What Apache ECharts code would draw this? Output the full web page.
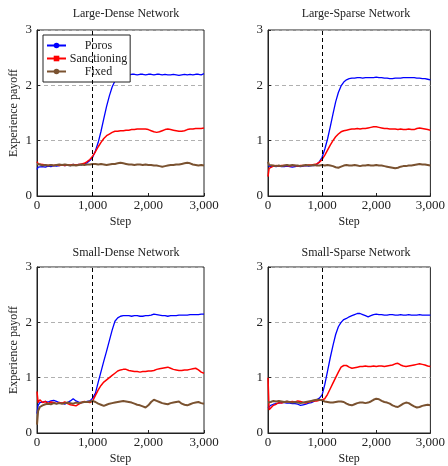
<!DOCTYPE html>
<html>
<head>
<meta charset="utf-8">
<script src="https://cdn.jsdelivr.net/npm/echarts@6/dist/echarts.min.js"></script>
<style>
html,body{margin:0;padding:0;background:#fff;}
#c{width:448px;height:466px;}
</style>
</head>
<body>
<div id="c"></div>
<script>
// ---- data ----
const panelTitles = ['Large-Dense Network', 'Large-Sparse Network', 'Small-Dense Network', 'Small-Sparse Network'];
const seriesNames = ['Poros', 'Sanctioning', 'Fixed'];
const xTicks = [0, 1000, 2000, 3000];
const yTicks = [0, 1, 2, 3];
const switchStep = 1000;
const steps = [0, 20, 50, 100, 150, 200, 250, 300, 350, 400,
  450, 500, 550, 600, 650, 700, 750, 800, 850, 900,
  950, 1000, 1050, 1100, 1150, 1200, 1250, 1300, 1350, 1400,
  1450, 1500, 1550, 1600, 1650, 1700, 1750, 1800, 1850, 1900,
  1950, 2000, 2050, 2100, 2150, 2200, 2250, 2300, 2350, 2400,
  2450, 2500, 2550, 2600, 2650, 2700, 2750, 2800, 2850, 2900,
  2950, 3000];

// Large-Dense
const ldPoros = [0.48, 0.52, 0.50, 0.53, 0.52, 0.54, 0.53, 0.55, 0.54, 0.55,
  0.56, 0.55, 0.56, 0.55, 0.57, 0.56, 0.57, 0.56, 0.58, 0.60,
  0.64, 0.70, 0.82, 0.97, 1.17, 1.40, 1.62, 1.81, 1.97, 2.08,
  2.15, 2.18, 2.19, 2.20, 2.19, 2.20, 2.20, 2.19, 2.20, 2.20,
  2.19, 2.20, 2.20, 2.19, 2.20, 2.20, 2.19, 2.20, 2.19, 2.19,
  2.20, 2.19, 2.18, 2.19, 2.20, 2.19, 2.20, 2.19, 2.20, 2.20,
  2.19, 2.21];
const ldSanction = [0.62, 0.58, 0.60, 0.57, 0.56, 0.55, 0.56, 0.55, 0.56, 0.55,
  0.56, 0.55, 0.56, 0.56, 0.57, 0.56, 0.57, 0.58, 0.59, 0.62,
  0.66, 0.72, 0.80, 0.89, 0.97, 1.04, 1.09, 1.12, 1.15, 1.17,
  1.17, 1.18, 1.18, 1.19, 1.19, 1.20, 1.20, 1.21, 1.21, 1.21,
  1.21, 1.20, 1.18, 1.16, 1.15, 1.16, 1.18, 1.20, 1.21, 1.20,
  1.19, 1.18, 1.17, 1.17, 1.18, 1.20, 1.21, 1.21, 1.22, 1.22,
  1.22, 1.23];
const ldFixed = [0.58, 0.55, 0.57, 0.55, 0.56, 0.55, 0.56, 0.55, 0.56, 0.57,
  0.56, 0.57, 0.56, 0.55, 0.56, 0.55, 0.56, 0.57, 0.56, 0.57,
  0.57, 0.58, 0.58, 0.57, 0.58, 0.57, 0.56, 0.57, 0.58, 0.58,
  0.59, 0.60, 0.59, 0.58, 0.57, 0.57, 0.56, 0.57, 0.57, 0.56,
  0.57, 0.56, 0.56, 0.55, 0.55, 0.54, 0.53, 0.54, 0.55, 0.56,
  0.56, 0.57, 0.57, 0.58, 0.59, 0.60, 0.59, 0.57, 0.56, 0.55,
  0.56, 0.55];

// Large-Sparse
const lsPoros = [0.55, 0.52, 0.53, 0.54, 0.53, 0.54, 0.53, 0.53, 0.54, 0.53,
  0.52, 0.53, 0.54, 0.53, 0.54, 0.55, 0.54, 0.55, 0.55, 0.57,
  0.62, 0.70, 0.85, 1.03, 1.25, 1.48, 1.70, 1.87, 1.99, 2.06,
  2.10, 2.12, 2.13, 2.13, 2.14, 2.14, 2.13, 2.14, 2.14, 2.14,
  2.14, 2.15, 2.14, 2.14, 2.13, 2.13, 2.12, 2.12, 2.13, 2.13,
  2.13, 2.14, 2.14, 2.14, 2.14, 2.14, 2.13, 2.13, 2.12, 2.12,
  2.11, 2.10];
const lsSanction = [0.35, 0.50, 0.53, 0.54, 0.55, 0.54, 0.55, 0.55, 0.55, 0.54,
  0.55, 0.55, 0.54, 0.55, 0.55, 0.55, 0.56, 0.56, 0.57, 0.58,
  0.61, 0.66, 0.74, 0.83, 0.92, 1.00, 1.07, 1.12, 1.16, 1.18,
  1.19, 1.20, 1.21, 1.21, 1.22, 1.21, 1.22, 1.22, 1.23, 1.24,
  1.25, 1.25, 1.24, 1.23, 1.22, 1.22, 1.21, 1.21, 1.21, 1.20,
  1.21, 1.20, 1.20, 1.21, 1.20, 1.20, 1.22, 1.23, 1.22, 1.21,
  1.20, 1.19];
const lsFixed = [0.62, 0.56, 0.54, 0.55, 0.54, 0.55, 0.54, 0.55, 0.56, 0.55,
  0.56, 0.55, 0.55, 0.54, 0.55, 0.56, 0.55, 0.55, 0.56, 0.55,
  0.55, 0.56, 0.55, 0.56, 0.55, 0.54, 0.52, 0.51, 0.53, 0.55,
  0.56, 0.55, 0.55, 0.56, 0.55, 0.54, 0.55, 0.55, 0.56, 0.55,
  0.55, 0.56, 0.55, 0.55, 0.54, 0.53, 0.52, 0.51, 0.50, 0.51,
  0.53, 0.54, 0.54, 0.55, 0.55, 0.56, 0.57, 0.58, 0.57, 0.57,
  0.56, 0.55];

// Small-Dense
const sdPoros = [0.35, 0.50, 0.55, 0.56, 0.57, 0.56, 0.58, 0.59, 0.57, 0.55,
  0.54, 0.52, 0.55, 0.58, 0.62, 0.58, 0.56, 0.55, 0.56, 0.57,
  0.58, 0.63, 0.72, 0.92, 1.11, 1.30, 1.48, 1.67, 1.86, 2.02,
  2.08, 2.11, 2.12, 2.12, 2.12, 2.11, 2.12, 2.12, 2.11, 2.11,
  2.12, 2.12, 2.13, 2.15, 2.14, 2.13, 2.12, 2.12, 2.11, 2.12,
  2.12, 2.12, 2.13, 2.13, 2.13, 2.13, 2.14, 2.14, 2.14, 2.14,
  2.15, 2.15];
const sdSanction = [0.75, 0.55, 0.60, 0.55, 0.57, 0.53, 0.56, 0.55, 0.53, 0.55,
  0.54, 0.56, 0.53, 0.51, 0.50, 0.49, 0.52, 0.55, 0.57, 0.56,
  0.55, 0.58, 0.68, 0.78, 0.86, 0.92, 0.96, 1.00, 1.04, 1.08,
  1.12, 1.14, 1.15, 1.15, 1.13, 1.12, 1.11, 1.11, 1.10, 1.11,
  1.11, 1.12, 1.12, 1.13, 1.15, 1.16, 1.17, 1.18, 1.19, 1.17,
  1.15, 1.14, 1.13, 1.13, 1.14, 1.14, 1.15, 1.16, 1.17, 1.14,
  1.10, 1.08];
const sdFixed = [0.15, 0.40, 0.47, 0.50, 0.52, 0.53, 0.52, 0.54, 0.53, 0.54,
  0.53, 0.54, 0.55, 0.54, 0.53, 0.55, 0.54, 0.55, 0.56, 0.56,
  0.57, 0.58, 0.56, 0.53, 0.51, 0.49, 0.51, 0.53, 0.54, 0.55,
  0.56, 0.57, 0.58, 0.57, 0.56, 0.55, 0.53, 0.51, 0.50, 0.48,
  0.46, 0.50, 0.56, 0.60, 0.58, 0.56, 0.54, 0.53, 0.52, 0.54,
  0.55, 0.56, 0.57, 0.53, 0.51, 0.50, 0.52, 0.54, 0.55, 0.56,
  0.54, 0.53];

// Small-Sparse
const ssPoros = [0.45, 0.48, 0.50, 0.52, 0.53, 0.54, 0.55, 0.55, 0.54, 0.54,
  0.53, 0.53, 0.52, 0.50, 0.51, 0.52, 0.54, 0.55, 0.57, 0.60,
  0.63, 0.69, 0.88, 1.12, 1.36, 1.58, 1.78, 1.92, 2.00, 2.05,
  2.07, 2.10, 2.12, 2.14, 2.16, 2.16, 2.14, 2.12, 2.10, 2.12,
  2.14, 2.15, 2.14, 2.14, 2.13, 2.13, 2.14, 2.14, 2.13, 2.13,
  2.14, 2.13, 2.13, 2.14, 2.13, 2.13, 2.13, 2.14, 2.13, 2.13,
  2.13, 2.13];
const ssSanction = [1.00, 0.42, 0.45, 0.50, 0.52, 0.55, 0.54, 0.56, 0.57, 0.56,
  0.57, 0.56, 0.58, 0.57, 0.55, 0.54, 0.56, 0.57, 0.58, 0.58,
  0.59, 0.60, 0.62, 0.70, 0.80, 0.90, 1.00, 1.10, 1.19, 1.22,
  1.22, 1.19, 1.17, 1.18, 1.19, 1.20, 1.20, 1.21, 1.20, 1.20,
  1.21, 1.20, 1.21, 1.21, 1.20, 1.21, 1.22, 1.23, 1.25, 1.26,
  1.23, 1.21, 1.20, 1.21, 1.22, 1.23, 1.24, 1.25, 1.24, 1.23,
  1.21, 1.20];
const ssFixed = [0.55, 0.58, 0.56, 0.58, 0.57, 0.58, 0.57, 0.56, 0.57, 0.56,
  0.55, 0.56, 0.55, 0.54, 0.55, 0.56, 0.57, 0.58, 0.59, 0.60,
  0.60, 0.59, 0.57, 0.56, 0.55, 0.55, 0.56, 0.57, 0.57, 0.56,
  0.53, 0.51, 0.50, 0.52, 0.54, 0.55, 0.55, 0.54, 0.55, 0.57,
  0.60, 0.62, 0.61, 0.58, 0.56, 0.55, 0.53, 0.50, 0.48, 0.47,
  0.50, 0.53, 0.55, 0.54, 0.51, 0.48, 0.46, 0.47, 0.49, 0.50,
  0.51, 0.50];

const panelData = [
  [ldPoros, ldSanction, ldFixed],
  [lsPoros, lsSanction, lsFixed],
  [sdPoros, sdSanction, sdFixed],
  [ssPoros, ssSanction, ssFixed]
];

// ---- styles ----
const FONT = '"Liberation Serif", "DejaVu Serif", serif';
const colors = ['#0000ff', '#ff0000', '#7a5230'];
const widths = [1.3, 1.5, 2];
const symbols = ['circle', 'rect', 'circle'];
const grids = [
  {left: 37, top: 30, width: 167, height: 166},
  {left: 268, top: 30, width: 166, height: 166},
  {left: 37, top: 267, width: 167, height: 166},
  {left: 268, top: 267, width: 166, height: 166}
];
const titlePos = [
  {x: 121, y: 3}, {x: 351, y: 3}, {x: 121, y: 242}, {x: 351, y: 242}
];

const option = {
  animation: false,
  backgroundColor: '#fff',
  title: panelTitles.map((t, i) => ({
    text: t,
    left: titlePos[i].x, top: titlePos[i].y, textAlign: 'center',
    textStyle: {fontFamily: FONT, fontSize: 12, fontWeight: 'normal', color: '#222'}
  })),
  legend: {
    data: seriesNames,
    left: 43, top: 35,
    orient: 'vertical',
    backgroundColor: '#fff',
    borderColor: '#222', borderWidth: 1,
    padding: [4, 3, 4, 3],
    itemWidth: 19, itemHeight: 7, itemGap: 0,
    formatter: name => '{c|' + name + '}',
    textStyle: {
      fontFamily: FONT, fontSize: 12, color: '#222', lineHeight: 13,
      rich: {c: {width: 55, align: 'center', fontFamily: FONT, fontSize: 12, color: '#222', lineHeight: 13}}
    }
  },
  grid: grids.map(g => Object.assign({show: true, borderColor: '#222', borderWidth: 1, backgroundColor: 'transparent'}, g)),
  xAxis: grids.map((g, i) => ({
    type: 'value', gridIndex: i, min: xTicks[0], max: xTicks[xTicks.length - 1], interval: 1000,
    name: 'Step', nameLocation: 'middle', nameGap: 20,
    nameTextStyle: {fontFamily: FONT, fontSize: 12, color: '#222'},
    axisLine: {show: true, onZero: false, lineStyle: {color: '#222', width: 1}},
    axisTick: {show: true, inside: true, length: 3, lineStyle: {color: '#222'}},
    splitLine: {show: false},
    axisLabel: {fontFamily: FONT, fontSize: 13, color: '#222', margin: 3,
      formatter: v => v.toLocaleString('en-US')}
  })),
  yAxis: grids.map((g, i) => ({
    type: 'value', gridIndex: i, min: yTicks[0], max: yTicks[yTicks.length - 1], interval: 1,
    name: (i % 2 === 0) ? 'Experience payoff' : '', nameLocation: 'middle', nameGap: 17,
    nameTextStyle: {fontFamily: FONT, fontSize: 12, color: '#222'},
    axisLine: {show: true, onZero: false, lineStyle: {color: '#222', width: 1}},
    axisTick: {show: true, inside: true, length: 3, lineStyle: {color: '#222'}},
    splitLine: {show: true, lineStyle: {color: '#b0b0b0', type: [4, 3], width: 1}},
    axisLabel: {fontFamily: FONT, fontSize: 13, color: '#222', margin: 5}
  })),
  series: []
};

panelData.forEach((arrs, p) => {
  arrs.forEach((vals, s) => {
    const ser = {
      type: 'line', name: seriesNames[s], xAxisIndex: p, yAxisIndex: p,
      data: steps.map((x, k) => [x, vals[k]]),
      showSymbol: false, symbol: symbols[s], symbolSize: 6,
      lineStyle: {color: colors[s], width: widths[s]},
      itemStyle: {color: colors[s]},
      silent: true
    };
    if (s === 2) {
      ser.markLine = {
        silent: true, symbol: 'none', label: {show: false},
        lineStyle: {color: '#000', type: [4, 3], width: 1},
        data: [{xAxis: switchStep}]
      };
    }
    option.series.push(ser);
  });
});

const chart = echarts.init(document.getElementById('c'), null, {renderer: 'canvas'});
chart.setOption(option);
</script>
</body>
</html>
